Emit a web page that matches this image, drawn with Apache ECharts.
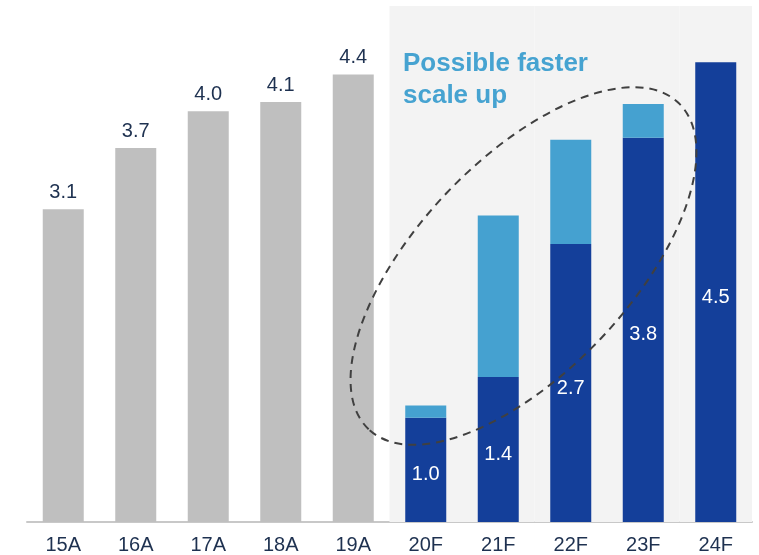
<!DOCTYPE html>
<html>
<head>
<meta charset="utf-8">
<script src="https://cdn.jsdelivr.net/npm/echarts@6/dist/echarts.min.js"></script>
<style>
  html, body { margin: 0; padding: 0; background: #fff; }
  #chart { width: 759px; height: 555px; }
</style>
</head>
<body>
<div id="chart"></div>
<script>
// categories and values
var categories = ['15A', '16A', '17A', '18A', '19A', '20F', '21F', '22F', '23F', '24F'];
var actual = [3.06, 3.66, 4.02, 4.11, 4.38, null, null, null, null, null];
var forecast = [null, null, null, null, null, 1.02, 1.42, 2.72, 3.76, 4.5];
var upside = [null, null, null, null, null, 0.12, 1.58, 1.02, 0.33, null];
var yMax = 5.05;
var shaded = categories.map(function(c) { return c.slice(-1) === 'F' ? yMax : null; });

var fontFamily = '"Liberation Sans", Arial, sans-serif';
var navy = '#1e3150';

var chart = echarts.init(document.getElementById('chart'));
var option = {
    animation: false,
    grid: { left: 27, right: 7, top: 6, bottom: 32 },
    xAxis: [{
        type: 'category',
        data: categories,
        axisLine: { lineStyle: { color: '#c8c8c8', width: 2 } },
        axisTick: { show: false },
        axisLabel: { color: navy, fontSize: 20, fontFamily: fontFamily, margin: 13 }
    }, {
        // hidden axis for the grey forecast panel
        type: 'category',
        data: categories,
        show: false
    }],
    yAxis: {
        type: 'value',
        min: 0,
        max: yMax,
        show: false,
        splitLine: { show: false }
    },
    graphic: [{
        type: 'text',
        left: 403,
        top: 48,
        z: 10,
        style: {
            text: 'Possible faster\nscale up',
            fill: '#46a3d1',
            font: 'bold 26px ' + fontFamily,
            lineHeight: 32
        }
    }, {
        type: 'ellipse',
        x: 523.5,
        y: 266,
        rotation: 46.5 * Math.PI / 180,
        z: 10,
        shape: { cx: 0, cy: 0, rx: 225, ry: 106 },
        style: { fill: null, stroke: '#404040', lineWidth: 2, lineDash: [8, 6] }
    }],
    series: [{
        name: 'panel',
        type: 'bar',
        xAxisIndex: 1,
        barWidth: '100%',
        silent: true,
        z: 1,
        itemStyle: { color: '#f3f3f3' },
        data: shaded
    }, {
        name: 'actual',
        type: 'bar',
        stack: 'total',
        barWidth: 41,
        z: 2,
        itemStyle: { color: '#bfbfbf' },
        label: {
            show: true,
            position: 'top',
            distance: 7,
            color: navy,
            fontSize: 20,
            fontFamily: fontFamily,
            formatter: function(p) { return p.value.toFixed(1); }
        },
        data: actual
    }, {
        name: 'forecast',
        type: 'bar',
        stack: 'total',
        barWidth: 41,
        z: 2,
        itemStyle: { color: '#143f9a' },
        label: {
            show: true,
            position: 'inside',
            offset: [0, 5],
            color: '#fff',
            fontSize: 20,
            fontFamily: fontFamily,
            formatter: function(p) { return p.value.toFixed(1); }
        },
        data: forecast
    }, {
        name: 'upside',
        type: 'bar',
        stack: 'total',
        barWidth: 41,
        z: 2,
        itemStyle: { color: '#45a1d0' },
        data: upside
    }]
};
chart.setOption(option);
</script>
</body>
</html>
